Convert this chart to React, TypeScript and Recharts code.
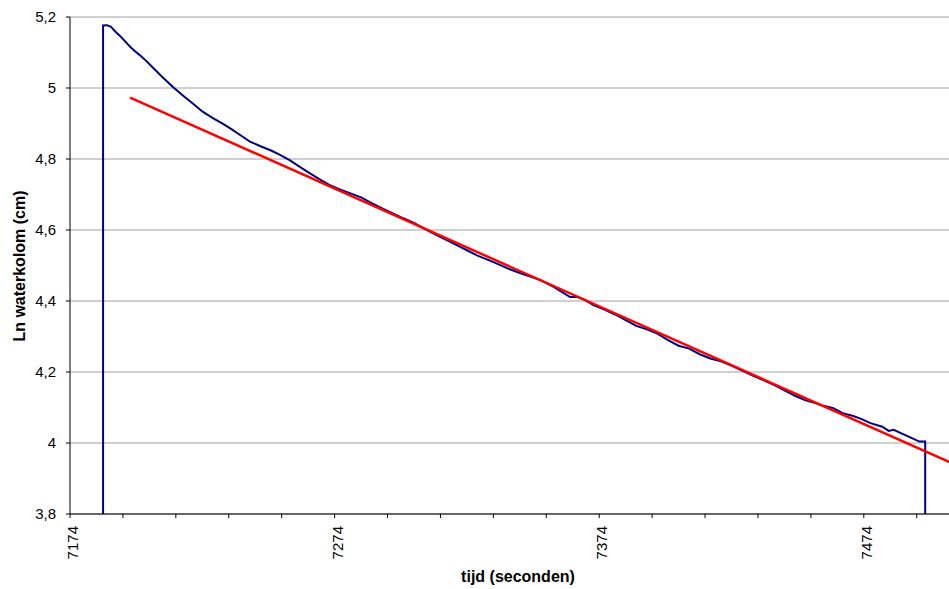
import { LineChart, Line, XAxis, YAxis, CartesianGrid, Label } from "recharts";

// gemeten ln(waterkolom) tegen tijd
const meetTijd = [
  7186.5, 7186.5, 7188, 7189.5, 7191, 7193, 7195, 7197, 7199, 7201, 7203, 7205, 7207, 7209, 7211,
  7213, 7217, 7221, 7224, 7228, 7232, 7235, 7239, 7242, 7246, 7250, 7253, 7257, 7261, 7265, 7269,
  7272, 7276, 7280, 7284, 7288, 7292, 7296, 7300, 7304, 7308, 7312, 7316, 7320, 7324, 7328, 7332,
  7336, 7340, 7344, 7348, 7352, 7356, 7360, 7363, 7366, 7369, 7372, 7376, 7380, 7384, 7388, 7392,
  7396, 7400, 7404, 7408, 7412, 7416, 7420, 7424, 7428, 7432, 7436, 7440, 7444, 7448, 7452, 7456,
  7458, 7460, 7462.5, 7466, 7470, 7473, 7476.5, 7481, 7483.4, 7485.3, 7488, 7490.3, 7493, 7495,
  7497.2, 7497.2,
];
const meetLn = [
  3.8, 5.176, 5.177, 5.172, 5.16, 5.146, 5.13, 5.114, 5.101, 5.089, 5.075, 5.06, 5.045, 5.03, 5.016,
  5.002, 4.977, 4.953, 4.934, 4.915, 4.898, 4.884, 4.864, 4.849, 4.836, 4.824, 4.813, 4.797, 4.777,
  4.758, 4.74, 4.727, 4.714, 4.703, 4.692, 4.676, 4.661, 4.647, 4.633, 4.62, 4.603, 4.588, 4.573,
  4.558, 4.543, 4.528, 4.516, 4.503, 4.49, 4.479, 4.469, 4.458, 4.443, 4.425, 4.411, 4.411, 4.401,
  4.388, 4.376, 4.362, 4.346, 4.33, 4.32, 4.308, 4.29, 4.274, 4.266, 4.25, 4.238, 4.23, 4.218, 4.204,
  4.19, 4.177, 4.164, 4.148, 4.133, 4.12, 4.112, 4.106, 4.103, 4.098, 4.084, 4.076, 4.068, 4.056,
  4.046, 4.034, 4.037, 4.028, 4.02, 4.011, 4.004, 4.004, 3.8,
];

// lineaire trendlijn
const trendTijd = [7196.7, 7513];
const trendLn = [4.973, 3.924];

const xTicks = [7174, 7194, 7214, 7234, 7254, 7274, 7294, 7314, 7334, 7354, 7374, 7394, 7414, 7434, 7454, 7474, 7494];
const yTicks = [3.8, 4, 4.2, 4.4, 4.6, 4.8, 5, 5.2];

const meetData = meetTijd.map((t, i) => ({ t, v: meetLn[i] }));
const trendData = trendTijd.map((t, i) => ({ t, v: trendLn[i] }));

const font = "'Liberation Sans', Arial, sans-serif";

const XTick = (props: any) => {
  const { x, y, payload } = props;
  if ((payload.value - 7174) % 100 !== 0) return <g />;
  return (
    <text
      transform={`translate(${x},${y}) rotate(-90)`}
      textAnchor="end"
      dy={8}
      fontSize={15}
      fontFamily={font}
      fill="#000"
    >
      {payload.value}
    </text>
  );
};

const YTitle = () => (
  <text
    x={19}
    y={266}
    transform="rotate(-90, 19, 266)"
    textAnchor="middle"
    dominantBaseline="central"
    fontSize={16}
    fontWeight="bold"
    fontFamily={font}
    fill="#000"
  >
    Ln waterkolom (cm)
  </text>
);

const XTitle = () => (
  <text x={518} y={582} textAnchor="middle" fontSize={16} fontWeight="bold" fontFamily={font} fill="#000">
    tijd (seconden)
  </text>
);

export default function App() {
  return (
    <div style={{ position: "fixed", left: 0, top: 0, width: 949, height: 589, overflow: "hidden", background: "#fff" }}>
      <LineChart width={967} height={589} margin={{ top: 17, right: 0, left: 0, bottom: 20 }}>
        <CartesianGrid horizontal vertical={false} stroke="#a0a0a0" />
        <XAxis
          type="number"
          dataKey="t"
          domain={[7174, 7513]}
          ticks={xTicks}
          interval={0}
          height={55}
          tickSize={4}
          tickMargin={8}
          tick={XTick}
          axisLine={{ stroke: "#000" }}
          tickLine={{ stroke: "#000" }}
        >
          <Label content={XTitle} />
        </XAxis>
        <YAxis
          type="number"
          domain={[3.8, 5.2]}
          ticks={yTicks}
          interval={0}
          width={70}
          tickSize={4}
          tickMargin={10}
          tickFormatter={(v: number) => String(Number(v.toFixed(1))).replace(".", ",")}
          tick={{ fontSize: 15, fontFamily: font, fill: "#000" }}
          axisLine={{ stroke: "#000" }}
          tickLine={{ stroke: "#000" }}
        >
          <Label content={YTitle} />
        </YAxis>
        <Line
          data={meetData}
          dataKey="v"
          type="linear"
          stroke="#000080"
          strokeWidth={2}
          dot={false}
          isAnimationActive={false}
        />
        <Line
          data={trendData}
          dataKey="v"
          type="linear"
          stroke="#ff0000"
          strokeWidth={2.5}
          dot={false}
          isAnimationActive={false}
        />
      </LineChart>
    </div>
  );
}
